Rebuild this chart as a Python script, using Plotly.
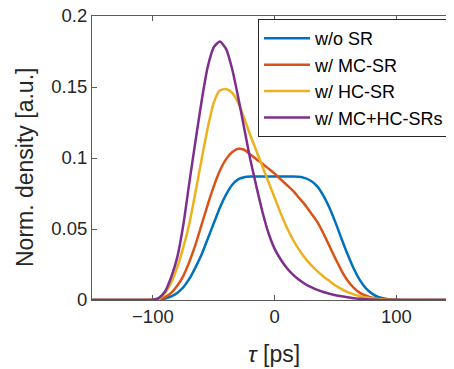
import plotly.graph_objects as go

# delay axis tau [ps], sampled every 5 ps
tau = list(range(-150, 155, 5))

ZEROS = [0] * 10  # tau -150..-105 and 105..150

wo_sr = ZEROS + [0, 0.0002, 0.001, 0.0025, 0.005, 0.009, 0.015, 0.023, 0.032, 0.043,
                 0.054, 0.065, 0.074, 0.081, 0.085, 0.0864, 0.0869, 0.087, 0.087, 0.087,
                 0.087, 0.087, 0.087, 0.087, 0.0868, 0.0858, 0.0838, 0.080, 0.0735, 0.065,
                 0.0545, 0.043, 0.032, 0.022, 0.014, 0.0082, 0.0045, 0.0022, 0.001, 0.0004,
                 0.0001] + ZEROS

mc_sr = ZEROS + [0.0001, 0.0005, 0.002, 0.005, 0.010, 0.017, 0.027, 0.039, 0.053, 0.067,
                 0.080, 0.091, 0.099, 0.104, 0.1065, 0.1058, 0.1025, 0.0992, 0.096, 0.0925,
                 0.089, 0.085, 0.081, 0.077, 0.072, 0.067, 0.061, 0.055, 0.047, 0.038,
                 0.029, 0.0205, 0.0135, 0.0085, 0.005, 0.003, 0.0017, 0.0009, 0.0004, 0.0002,
                 0.0001] + ZEROS

hc_sr = ZEROS + [0.0001, 0.0008, 0.005, 0.012, 0.023, 0.037, 0.054, 0.076, 0.099, 0.121,
                 0.139, 0.1475, 0.1486, 0.146, 0.139, 0.128, 0.116, 0.105, 0.094, 0.083,
                 0.072, 0.061, 0.051, 0.0425, 0.0355, 0.0295, 0.0245, 0.0203, 0.0166, 0.0134,
                 0.0102, 0.0077, 0.0056, 0.004, 0.0027, 0.0017, 0.001, 0.0006, 0.0003, 0.0001,
                 0] + ZEROS

mchc_sr = ZEROS + [0.0002, 0.0015, 0.006, 0.016, 0.030, 0.053, 0.083, 0.112, 0.140, 0.164,
                   0.178, 0.182, 0.177, 0.163, 0.143, 0.121, 0.099, 0.080, 0.062, 0.047,
                   0.036, 0.0285, 0.0225, 0.0178, 0.0142, 0.0113, 0.009, 0.0071, 0.0056, 0.0044,
                   0.0034, 0.0026, 0.0019, 0.0013, 0.0008, 0.0005, 0.0003, 0.0001, 0, 0,
                   0] + ZEROS

names = ["w/o SR", "w/ MC-SR", "w/ HC-SR", "w/ MC+HC-SRs"]
colors = ["#0072BD", "#D95319", "#EDB120", "#7E2F8E"]
series = [wo_sr, mc_sr, hc_sr, mchc_sr]

x_ticks = [-100, 0, 100]
y_ticks = [0, 0.05, 0.1, 0.15, 0.2]
y_labels = ["0", "0.05", "0.1", "0.15", "0.2"]

fig = go.Figure()
for n, c, s in zip(names, colors, series):
    fig.add_trace(go.Scatter(x=tau, y=s, name=n, mode="lines",
                             line=dict(color=c, width=2.5, shape="spline", smoothing=0.6)))

font = "Liberation Sans, Arial, Helvetica, sans-serif"
axcol = "#5a5a5a"
# page body has an 8px default margin, so the figure is 8px smaller than the window
fig.update_layout(
    width=446, height=361,
    margin=dict(l=84, r=0, t=8, b=69),
    paper_bgcolor="white", plot_bgcolor="white",
    font=dict(family=font, size=18.5, color="#262626"),
    legend=dict(x=0.4586, y=0.989, xanchor="left", yanchor="top",
                bordercolor="#262626", borderwidth=1, bgcolor="white",
                font=dict(size=18, color="#000000"), tracegroupgap=0,
                itemwidth=46),
    showlegend=True,
    annotations=[
        dict(text="Norm. density [a.u.]", xref="paper", yref="paper",
             x=(25 - 92) / 362, y=(300 - 168) / 284, textangle=-90,
             showarrow=False, xanchor="center", yanchor="middle",
             font=dict(size=23, color="#262626")),
        dict(text="<i>τ</i> [ps]", xref="paper", yref="paper",
             x=(274 - 92) / 362, y=(300 - 354) / 284,
             showarrow=False, xanchor="center", yanchor="middle",
             font=dict(size=23, color="#262626")),
    ],
)
fig.update_xaxes(range=[-150, 147.3], tickvals=x_ticks, ticks="inside", ticklen=5,
                 tickcolor=axcol, showline=True, linecolor=axcol, linewidth=1,
                 mirror="ticks", showgrid=False, zeroline=False, automargin=False,
                 ticklabeloverflow="allow")
fig.update_yaxes(range=[0, 0.2], tickvals=y_ticks, ticktext=y_labels, ticks="inside",
                 ticklen=5, tickcolor=axcol, showline=True, linecolor=axcol, linewidth=1,
                 mirror="ticks", showgrid=False, zeroline=False, automargin=False,
                 ticklabeloverflow="allow")

fig.write_html("out.html")
